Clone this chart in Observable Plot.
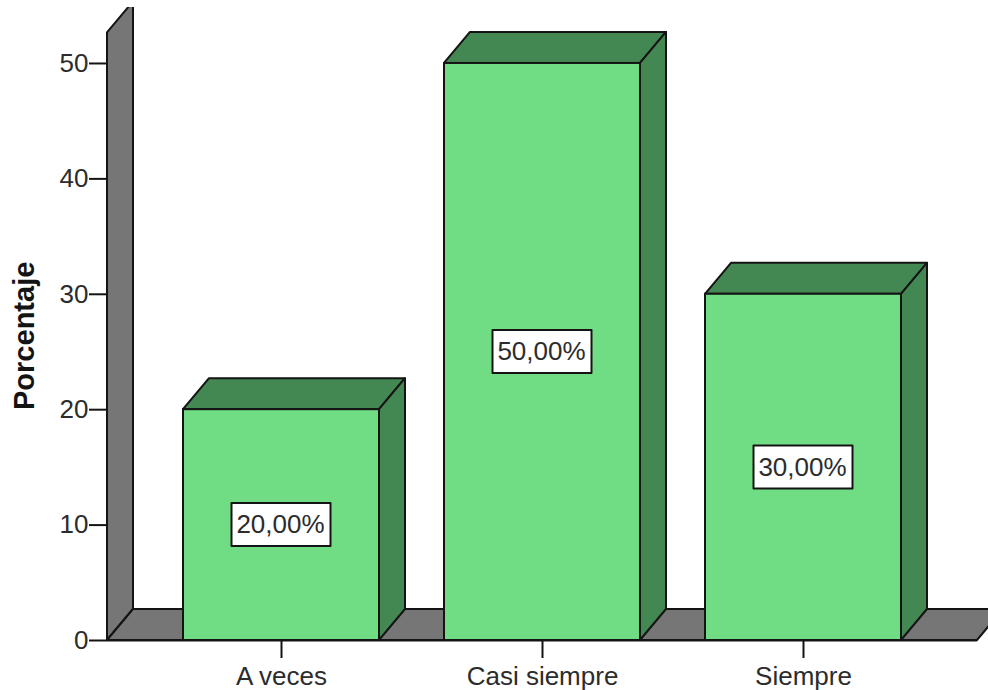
<!DOCTYPE html>
<html>
<head>
<meta charset="utf-8">
<style>
  html, body { margin: 0; padding: 0; background: #fff; }
  svg { display: block; }
</style>
<script src="https://cdn.jsdelivr.net/npm/d3@7"></script>
<script src="https://cdn.jsdelivr.net/npm/@observablehq/plot@0.6"></script>
</head>
<body>
<script>
const categories = ["A veces", "Casi siempre", "Siempre"];
const percentages = [20, 50, 30];
const yTicks = [0, 10, 20, 30, 40, 50];
const yLabel = "Porcentaje";
const wallTop = 52.65;

const faceGreen = "#70dd85";
const shadeGreen = "#438853";
const wallGrey = "#767676";
const ink = "#141414";
const textInk = "#2c2c2c";
const depth = {dx: 26, dy: 31};

const rows = categories.map((category, i) => ({category, value: percentages[i]}));
const percentText = (v) => v.toFixed(2).replace(".", ",") + "%";

// Draws closed faces in a group, each face a list of [x, y] pixel corners.
function facesGroup(context, faces) {
  const g = d3.select(context.document.createElementNS("http://www.w3.org/2000/svg", "g"));
  g.selectAll("path").data(faces).join("path")
    .attr("d", (f) => "M" + f.pts.map((p) => p.join(",")).join("L") + "Z")
    .attr("fill", (f) => f.fill)
    .attr("stroke", ink)
    .attr("stroke-width", 2)
    .attr("stroke-linejoin", "round");
  return g;
}

// Back wall and floor of the chart box, pushed back by the extrusion depth.
function backdrop(index, scales, values, dimensions, context) {
  const y0 = scales.y(0), yT = scales.y(wallTop);
  const xL = dimensions.marginLeft, xR = dimensions.width - dimensions.marginRight;
  const {dx, dy} = depth;
  const g = facesGroup(context, [
    {fill: wallGrey, pts: [[xL, y0], [xL, yT], [xL + dx, yT - dy], [xL + dx, y0 - dy]]},
    {fill: wallGrey, pts: [[xL, y0], [xR, y0], [xR + dx, y0 - dy], [xL + dx, y0 - dy]]}
  ]);
  const id = "wall-clip";
  g.append("clipPath").attr("id", id).append("rect")
    .attr("x", 0).attr("y", dimensions.marginTop)
    .attr("width", dimensions.width + dx).attr("height", dimensions.height);
  g.attr("clip-path", `url(#${id})`);
  return g.node();
}

// Top and side faces of each extruded bar.
function barDepth(index, scales, values, dimensions, context) {
  const bw = scales.scales.x.bandwidth;
  const {dx, dy} = depth;
  const faces = rows.flatMap((r) => {
    const l = scales.x(r.category), t = scales.y(r.value), b = scales.y(0), e = l + bw;
    return [
      {fill: shadeGreen, pts: [[l, t], [e, t], [e + dx, t - dy], [l + dx, t - dy]]},
      {fill: shadeGreen, pts: [[e, t], [e, b], [e + dx, b - dy], [e + dx, t - dy]]}
    ];
  });
  return facesGroup(context, faces).node();
}

// White label plates centred on the middle of each bar.
function labelPlates(index, scales, values, dimensions, context) {
  const bw = scales.scales.x.bandwidth;
  const w = 99, h = 43;
  const faces = rows.map((r) => {
    const cx = scales.x(r.category) + bw / 2, cy = scales.y(r.value / 2);
    return {fill: "#fff", pts: [[cx - w / 2, cy - h / 2], [cx + w / 2, cy - h / 2], [cx + w / 2, cy + h / 2], [cx - w / 2, cy + h / 2]]};
  });
  return facesGroup(context, faces).node();
}

const chart = Plot.plot({
  width: 988,
  height: 690,
  marginLeft: 107,
  marginRight: 11,
  marginTop: 7,
  marginBottom: 50,
  style: {fontFamily: "'Liberation Sans', Arial, sans-serif", color: ink, background: "#fff"},
  x: {type: "band", domain: categories, paddingInner: 0.249, paddingOuter: 0.291, label: null},
  y: {domain: [0, 54.85], label: null},
  marks: [
    backdrop,
    barDepth,
    Plot.barY(rows, {x: "category", y: "value", fill: faceGreen, stroke: ink, strokeWidth: 2}),
    labelPlates,
    Plot.text(rows, {
      x: "category", y: (d) => d.value / 2, text: (d) => percentText(d.value),
      fontSize: 26, fill: textInk, dx: -1
    }),
    Plot.ruleY([0], {stroke: ink, strokeWidth: 2}),
    Plot.axisY({ticks: yTicks, tickSize: 18, tickPadding: 1, fontSize: 26, strokeWidth: 2, fill: textInk, label: null, tickFormat: (d) => d}),
    Plot.axisX({tickSize: 18, tickPadding: 8, fontSize: 26, strokeWidth: 2, fill: textInk, label: null}),
    Plot.text([yLabel], {
      frameAnchor: "left", textAnchor: "middle", y: [26.4], text: (d) => d, rotate: -90, dx: -83,
      fontSize: 29, fontWeight: "bold", fill: ink
    })
  ]
});
document.body.append(chart);
</script>
</body>
</html>
